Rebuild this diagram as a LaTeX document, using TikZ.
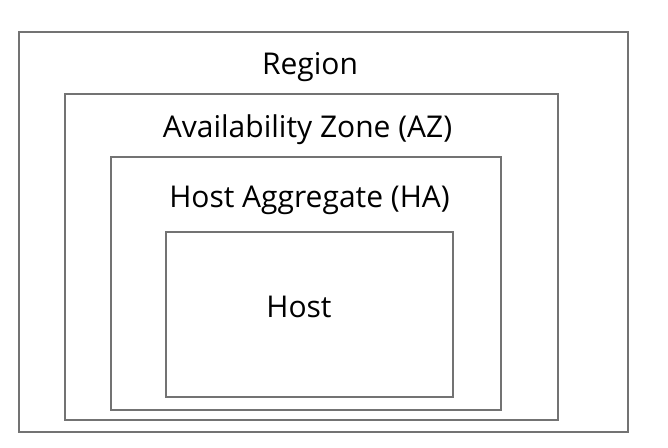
\documentclass[tikz,border=0pt]{standalone}
\usepackage{fontspec}
\setmainfont{Open Sans}
\usepackage{tikz}
\usetikzlibrary{positioning}

\begin{document}
\begin{tikzpicture}[
  x=1pt, y=-1pt,
  zone/.style={draw=gray!90!black, line width=1.4pt, fill=none,
               inner sep=0pt, outer sep=0pt},
  ttl/.style={anchor=base, inner sep=0pt, font=\fontsize{30}{34}\selectfont}
]
  \useasboundingbox (0,0) rectangle (668,447);

  % nested boxes
  \node[zone, minimum width=609pt, minimum height=400pt] (region) at (323.5,232) {};
  \node[zone, minimum width=493pt, minimum height=326pt] (az)     at (311.5,257) {};
  \node[zone, minimum width=390pt, minimum height=253pt] (ha)     at (306,283.5) {};
  \node[zone, minimum width=287pt, minimum height=165pt] (host)   at (309.5,314.5) {};

  % titles
  \node[ttl] (tregion) at (310,74)    {Region};
  \node[ttl] (taz)     at (307.5,137) {Availability Zone (AZ)};
  \node[ttl] (tha)     at (309.5,207) {Host Aggregate (HA)};
  \node[ttl] (thost)   at (299,317)   {Host};
\end{tikzpicture}
\end{document}
